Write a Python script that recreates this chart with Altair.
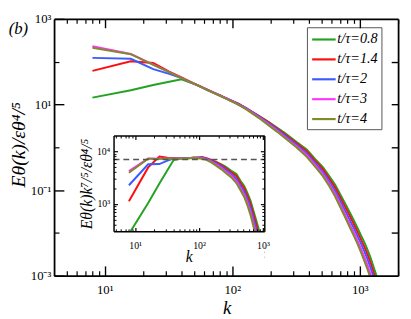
import altair as alt
import pandas as pd

SERIF = "Liberation Serif"

# ---------------- data ----------------
k_vals = [8, 16, 24, 32, 40, 48, 56, 64, 80, 96, 112, 128, 160, 192, 224, 256, 320, 384,
          448, 512, 576, 640, 704, 768, 832, 896, 960, 1024, 1088, 1152, 1216, 1280, 1344, 1408]

E_t08 = [14.5, 21.5, 28.5, 34, 39, 31.5, 26.8, 21.4, 16.6, 12.4, 10.5, 8.0, 5.5, 3.92, 2.88, 2.2,
         1.33, 0.89, 0.53, 0.35, 0.213, 0.135, 0.079, 0.0485, 0.0308, 0.0201, 0.0130, 0.0087,
         0.0060, 0.0040, 0.00266, 0.00167, 0.00106, 0.00063]
E_t14 = [61, 102, 93, 59, 42.9, 33, 26.6, 22.2, 16.4, 12.9, 10.4, 8.4, 5.55, 3.9, 2.8, 2.07,
         1.24, 0.81, 0.478, 0.312, 0.187, 0.116, 0.0674, 0.0407, 0.0255, 0.0164, 0.0106, 0.0070,
         0.0047, 0.0031, 0.00203, 0.00126, 0.00077, 0.00045]
E_t2 = [123, 117, 67, 52, 41.5, 32.6, 26.3, 22.1, 16.2, 12.8, 10.2, 8.2, 5.35, 3.68, 2.63, 1.93,
        1.14, 0.72, 0.425, 0.272, 0.161, 0.097, 0.0555, 0.0331, 0.0205, 0.0131, 0.0085, 0.0056,
        0.0037, 0.0024, 0.00155, 0.00095, 0.00057, 0.00032]
E_t3 = [229, 151, 85, 57.4, 42.0, 32.6, 26.4, 22.0, 16.2, 12.6, 10.0, 8.05, 5.15, 3.5, 2.48, 1.8,
        1.06, 0.655, 0.382, 0.24, 0.140, 0.0824, 0.0463, 0.0273, 0.0165, 0.0105, 0.00666, 0.00428,
        0.00274, 0.00176, 0.0011, 0.00066, 0.00038, 0.00021]
E_t4 = [213, 150, 84, 57, 41.5, 32.3, 26.2, 21.8, 16.0, 12.4, 9.8, 7.8, 4.95, 3.3, 2.33, 1.69,
        0.99, 0.60, 0.349, 0.215, 0.125, 0.0719, 0.0398, 0.0232, 0.0139, 0.00873, 0.00553, 0.0035,
        0.0022, 0.0014, 0.00086, 0.00051, 0.00028, 0.00015]

series_labels = ["t/τ=0.8", "t/τ=1.4", "t/τ=2", "t/τ=3", "t/τ=4"]
series_colors = ["#22a322", "#ff0d0d", "#3a5cff", "#ff33ff", "#808a2a"]

main_x_major = [10, 100, 1000]
main_x_minor = [5, 6, 7, 8, 9, 20, 30, 40, 50, 60, 70, 80, 90,
                200, 300, 400, 500, 600, 700, 800, 900, 2000]
main_y_major = [1e-3, 1e-1, 1e1, 1e3]
main_y_minor = [1e-2, 1, 1e2]
main_y_right = [1e-2, 1e-1, 1, 1e1, 1e2]

inset_x_major = [10, 100, 1000]
inset_x_minor = [5, 6, 7, 8, 9, 20, 30, 40, 50, 60, 70, 80, 90,
                 200, 300, 400, 500, 600, 700, 800, 900]
inset_y_major = [1e3, 1e4]
inset_y_minor = [400, 500, 600, 700, 800, 900,
                 2000, 3000, 4000, 5000, 6000, 7000, 8000, 9000]

plateau_level = 7000
comp_exponent = 1.4

rows = []
for lab, vals in zip(series_labels, [E_t08, E_t14, E_t2, E_t3, E_t4]):
    for k, e in zip(k_vals, vals):
        rows.append({"k": k, "E": e, "series": lab})
df = pd.DataFrame(rows)

dummy_main = pd.DataFrame({"k": [10], "E": [1]})
dummy_inset = pd.DataFrame({"k": [10], "C": [1000]})
dash_df = pd.DataFrame({"k0": [4.6], "k1": [1050], "C": [plateau_level]})
mask_df = pd.DataFrame({"k0": [4.6], "k1": [1050], "c0": [300], "c1": [80]})
label_df = pd.DataFrame({"t": ["(b)"]})

# ---------------- scales ----------------
MX = alt.Scale(type="log", domain=[4, 2000], nice=False)
MY = alt.Scale(type="log", domain=[1e-3, 1e3], nice=False)
IX = alt.Scale(type="log", domain=[4.6, 1050], range=[60.7, 214.5], nice=False)
IY = alt.Scale(type="log", domain=[300, 20000], range=[216.7, 119], nice=False)
CS = alt.Scale(domain=series_labels, range=series_colors)


def neg(v):
    return alt.ExprRef(expr=str(-v))


def ax(**kw):
    d = dict(grid=False, zindex=1, domainColor="black", tickColor="black",
             labelColor="black", titleColor="black", labelFont=SERIF, titleFont=SERIF,
             labelFlush=False, labelOverlap=False, titleFontWeight="normal")
    d.update(kw)
    return alt.Axis(**d)


def bare(orient, values, size, width=1.2, domain=False, dw=1.8, offset=0):
    return ax(orient=orient, values=values, labels=False, domain=domain, domainWidth=dw,
              tickSize=neg(size), tickWidth=width, title=None, offset=offset)


xlab = "datum.value >= 500 ? '10³' : datum.value >= 50 ? '10²' : '10¹'"
ylab_main = ("datum.value > 500 ? '10³' : datum.value > 5 ? '10¹' : "
             "datum.value > 0.05 ? '10⁻¹' : '10⁻³'")
ylab_inset = "datum.value > 5000 ? '10⁴' : '10³'"

legend = alt.Legend(orient="none", legendX=258, legendY=8.5, title=None,
                    symbolType="M-0.96,0H2.24", symbolSize=225, symbolStrokeWidth=2.2,
                    labelFont=SERIF, labelFontSize=14.5, labelFontStyle="italic",
                    labelColor="black", labelOffset=9.5, rowPadding=4.3, padding=3.5,
                    strokeColor="#555555", fillColor="white")

# ---------------- main plot ----------------
main_lines = alt.Chart(df).mark_line(strokeWidth=2, clip=True).encode(
    x=alt.X("k:Q", scale=MX, axis=ax(
        orient="bottom", values=main_x_major, labelExpr=xlab, tickSize=neg(10), tickWidth=1.4,
        labelPadding=18.5, labelFontSize=13, domainWidth=1.8, title="k", titleFontSize=19,
        titleFontStyle="italic", titleX=176, titleY=33, titleBaseline="middle",
        titleAlign="center")),
    y=alt.Y("E:Q", scale=MY, axis=ax(
        orient="left", values=main_y_major, labelExpr=ylab_main, tickSize=neg(10),
        tickWidth=1.4, labelPadding=13.3, labelFontSize=13, domainWidth=1.8,
        title="Eθ(k)/εθ⁴/⁵", titleFontSize=20, titleFontStyle="italic", titleAngle=270,
        titleX=-36, titleY=128, titleBaseline="middle", titleAlign="center")),
    color=alt.Color("series:N", scale=CS, legend=legend),
)

main_ticks_a = alt.Chart(dummy_main).mark_point(opacity=0).encode(
    x=alt.X("k:Q", scale=MX, axis=bare("bottom", main_x_minor, 5)),
    y=alt.Y("E:Q", scale=MY, axis=bare("left", main_y_minor, 5)),
)
main_ticks_b = alt.Chart(dummy_main).mark_point(opacity=0).encode(
    x=alt.X("k:Q", scale=MX, axis=bare("top", main_x_major, 9, 1.4, True)),
    y=alt.Y("E:Q", scale=MY, axis=bare("right", main_y_right, 7, 1.4, True)),
)
main_ticks_c = alt.Chart(dummy_main).mark_point(opacity=0).encode(
    x=alt.X("k:Q", scale=MX, axis=bare("top", main_x_minor, 4.5)),
    y=alt.Y("E:Q", scale=MY, axis=None),
)

# ---------------- inset ----------------
inset_lines = alt.Chart(df).transform_calculate(
    C=f"datum.E * pow(datum.k, {comp_exponent})"
).transform_filter("datum.C >= 90 && datum.k <= 1024").mark_line(strokeWidth=2).encode(
    x=alt.X("k:Q", scale=IX, axis=ax(
        orient="bottom", offset=-45.3, values=inset_x_major, labelExpr=xlab, tickSize=neg(4),
        tickWidth=1.2, labelPadding=13.5, labelFontSize=10, domainWidth=1.5, title="k",
        titleFontSize=16, titleFontStyle="italic", titleX=137.5, titleY=25.8,
        titleBaseline="middle", titleAlign="center")),
    y=alt.Y("C:Q", scale=IY, axis=ax(
        orient="left", offset=-60.7, values=inset_y_major, labelExpr=ylab_inset,
        tickSize=neg(4), tickWidth=1.2, labelPadding=8, labelFontSize=10, domainWidth=1.5,
        title="Eθ(k)k⁷/⁵/εθ⁴/⁵", titleFontSize=16, titleFontStyle="italic", titleAngle=270,
        titleX=-27.7, titleY=168, titleBaseline="middle", titleAlign="center")),
    color=alt.Color("series:N", scale=CS, legend=None),
)

dashed = alt.Chart(dash_df).mark_rule(strokeDash=[6, 4], color="#555555", strokeWidth=1.4).encode(
    x=alt.X("k0:Q", scale=IX, axis=None), x2="k1:Q",
    y=alt.Y("C:Q", scale=IY, axis=None),
)

mask = alt.Chart(mask_df).mark_rect(color="white").encode(
    x=alt.X("k0:Q", scale=IX, axis=None), x2="k1:Q",
    y=alt.Y("c0:Q", scale=IY, axis=None), y2="c1:Q",
)

inset_ticks_a = alt.Chart(dummy_inset).mark_point(opacity=0).encode(
    x=alt.X("k:Q", scale=IX, axis=bare("bottom", inset_x_minor, 2.5, 1.0, offset=-45.3)),
    y=alt.Y("C:Q", scale=IY, axis=bare("left", inset_y_minor, 2.5, 1.0, offset=-60.7)),
)
inset_ticks_b = alt.Chart(dummy_inset).mark_point(opacity=0).encode(
    x=alt.X("k:Q", scale=IX, axis=bare("top", inset_x_major, 4, 1.2, True, 1.5, offset=-119)),
    y=alt.Y("C:Q", scale=IY, axis=bare("right", inset_y_major, 4, 1.2, True, 1.5, offset=-136.5)),
)
inset_ticks_c = alt.Chart(dummy_inset).mark_point(opacity=0).encode(
    x=alt.X("k:Q", scale=IX, axis=bare("top", inset_x_minor, 2.5, 1.0, offset=-119)),
    y=alt.Y("C:Q", scale=IY, axis=bare("right", inset_y_minor, 2.5, 1.0, offset=-136.5)),
)

panel_label = alt.Chart(label_df).mark_text(
    font=SERIF, fontSize=17, fontStyle="italic", color="black", align="left"
).encode(text="t:N", x=alt.value(-46.3), y=alt.value(10.5))

chart = alt.layer(
    main_lines, main_ticks_a, main_ticks_b, main_ticks_c,
    inset_lines, dashed, mask, inset_ticks_a, inset_ticks_b, inset_ticks_c,
    panel_label,
).resolve_scale(x="independent", y="independent").properties(
    width=351, height=262,
    autosize=alt.AutoSizeParams(type="none"),
    padding={"left": 47, "top": 8, "right": 5, "bottom": 40},
    background="white",
).configure_view(stroke=None)

chart.save("out.html", embed_options={"renderer": "svg", "actions": False})
